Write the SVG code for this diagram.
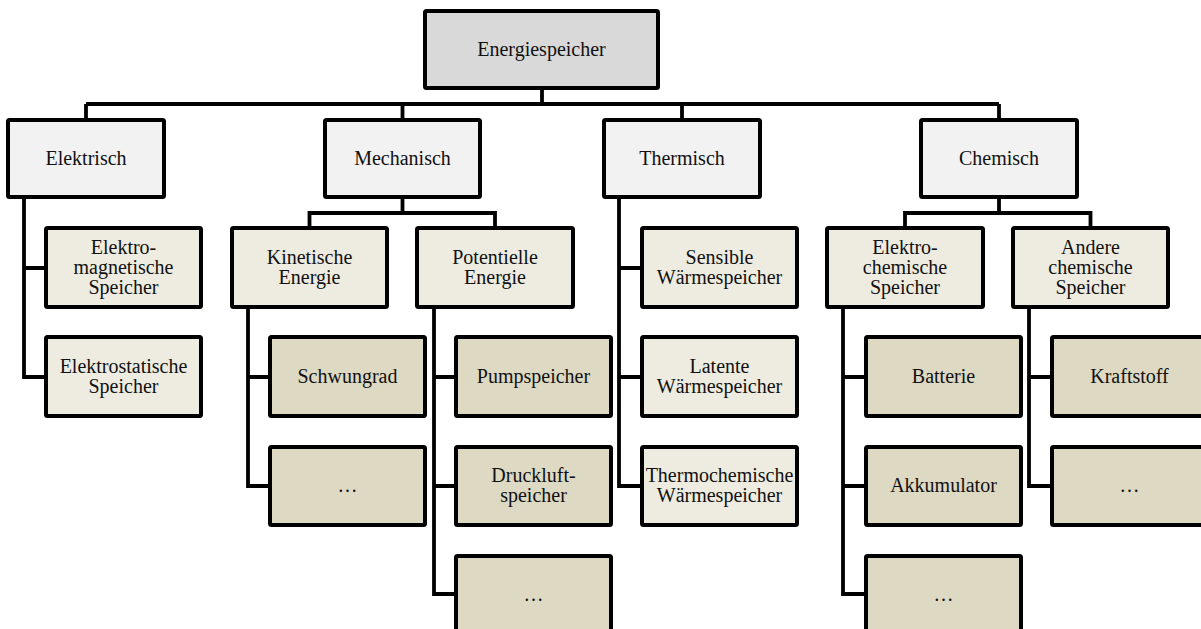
<svg xmlns="http://www.w3.org/2000/svg" width="1201" height="629" viewBox="0 0 1201 629">
<style>
rect{stroke:#000;stroke-width:4}
.r0{fill:#d9d9d9}
.r1{fill:#f2f2f2}
.r2{fill:#eeece1}
.r3{fill:#ddd9c3}
text{font-family:"Liberation Serif","Times New Roman",serif;font-size:20px;fill:#111;text-anchor:middle}
#connectors path{fill:none;stroke:#000;stroke-width:3.8;stroke-linejoin:miter}
</style>
<rect width="1201" height="629" fill="#fff" style="stroke:none"/>
<g id="connectors">
<path d="M542 89V104M86 104H999M86 104V120M402.5 104V120M682 104V120M999 104V120"/>
<path d="M24 197V377H46M24 268H46"/>
<path d="M402.5 197V213M309.5 228V213H495V228"/>
<path d="M248 307V486H270M248 377H270"/>
<path d="M434 307V594H456M434 377H456M434 486H456"/>
<path d="M619 197V486H642M619 268H642M619 377H642"/>
<path d="M999 197V213M905 228V213H1090.5V228"/>
<path d="M843 307V594H866M843 377H866M843 486H866"/>
<path d="M1029 307V486H1052M1029 377H1052"/>
</g>
<g id="root"><rect class="r0" x="425" y="11" width="233" height="77" rx="1.5"/><text x="541.5" y="56">Energiespeicher</text></g>
<g id="elektrisch"><rect class="r1" x="8" y="120" width="156" height="77" rx="1.5"/><text x="86" y="165">Elektrisch</text></g>
<g id="mechanisch"><rect class="r1" x="325" y="120" width="155" height="77" rx="1.5"/><text x="402.5" y="165">Mechanisch</text></g>
<g id="thermisch"><rect class="r1" x="604" y="120" width="156" height="77" rx="1.5"/><text x="682" y="165">Thermisch</text></g>
<g id="chemisch"><rect class="r1" x="921" y="120" width="156" height="77" rx="1.5"/><text x="999" y="165">Chemisch</text></g>
<g id="elektromagnetisch"><rect class="r2" x="46" y="228" width="155" height="79" rx="1.5"/><text x="123.5" y="254">Elektro-</text><text x="123.5" y="274">magnetische</text><text x="123.5" y="294">Speicher</text></g>
<g id="elektrostatisch"><rect class="r2" x="46" y="337" width="155" height="79" rx="1.5"/><text x="123.5" y="373">Elektrostatische</text><text x="123.5" y="393">Speicher</text></g>
<g id="kinetisch"><rect class="r2" x="232" y="228" width="155" height="79" rx="1.5"/><text x="309.5" y="264">Kinetische</text><text x="309.5" y="284">Energie</text></g>
<g id="potentiell"><rect class="r2" x="417" y="228" width="156" height="79" rx="1.5"/><text x="495" y="264">Potentielle</text><text x="495" y="284">Energie</text></g>
<g id="sensibel"><rect class="r2" x="642" y="228" width="155" height="79" rx="1.5"/><text x="719.5" y="264">Sensible</text><text x="719.5" y="284">Wärmespeicher</text></g>
<g id="latent"><rect class="r2" x="642" y="337" width="155" height="79" rx="1.5"/><text x="719.5" y="373">Latente</text><text x="719.5" y="393">Wärmespeicher</text></g>
<g id="thermochemisch"><rect class="r2" x="642" y="447" width="155" height="78" rx="1.5"/><text x="719.5" y="482">Thermochemische</text><text x="719.5" y="502">Wärmespeicher</text></g>
<g id="elektrochemisch"><rect class="r2" x="827" y="228" width="156" height="79" rx="1.5"/><text x="905" y="254">Elektro-</text><text x="905" y="274">chemische</text><text x="905" y="294">Speicher</text></g>
<g id="andere"><rect class="r2" x="1013" y="228" width="155" height="79" rx="1.5"/><text x="1090.5" y="254">Andere</text><text x="1090.5" y="274">chemische</text><text x="1090.5" y="294">Speicher</text></g>
<g id="schwungrad"><rect class="r3" x="270" y="337" width="155" height="79" rx="1.5"/><text x="347.5" y="383">Schwungrad</text></g>
<g id="kin-more"><rect class="r3" x="270" y="447" width="155" height="78" rx="1.5"/><text x="347.5" y="492">…</text></g>
<g id="pumpspeicher"><rect class="r3" x="456" y="337" width="155" height="79" rx="1.5"/><text x="533.5" y="383">Pumpspeicher</text></g>
<g id="druckluft"><rect class="r3" x="456" y="447" width="155" height="78" rx="1.5"/><text x="533.5" y="482">Druckluft-</text><text x="533.5" y="502">speicher</text></g>
<g id="pot-more"><rect class="r3" x="456" y="556" width="155" height="78" rx="1.5"/><text x="533.5" y="601">…</text></g>
<g id="batterie"><rect class="r3" x="866" y="337" width="155" height="79" rx="1.5"/><text x="943.5" y="383">Batterie</text></g>
<g id="akkumulator"><rect class="r3" x="866" y="447" width="155" height="78" rx="1.5"/><text x="943.5" y="492">Akkumulator</text></g>
<g id="elc-more"><rect class="r3" x="866" y="556" width="155" height="78" rx="1.5"/><text x="943.5" y="601">…</text></g>
<g id="kraftstoff"><rect class="r3" x="1052" y="337" width="155" height="79" rx="1.5"/><text x="1129.5" y="383">Kraftstoff</text></g>
<g id="and-more"><rect class="r3" x="1052" y="447" width="155" height="78" rx="1.5"/><text x="1129.5" y="492">…</text></g>
</svg>
